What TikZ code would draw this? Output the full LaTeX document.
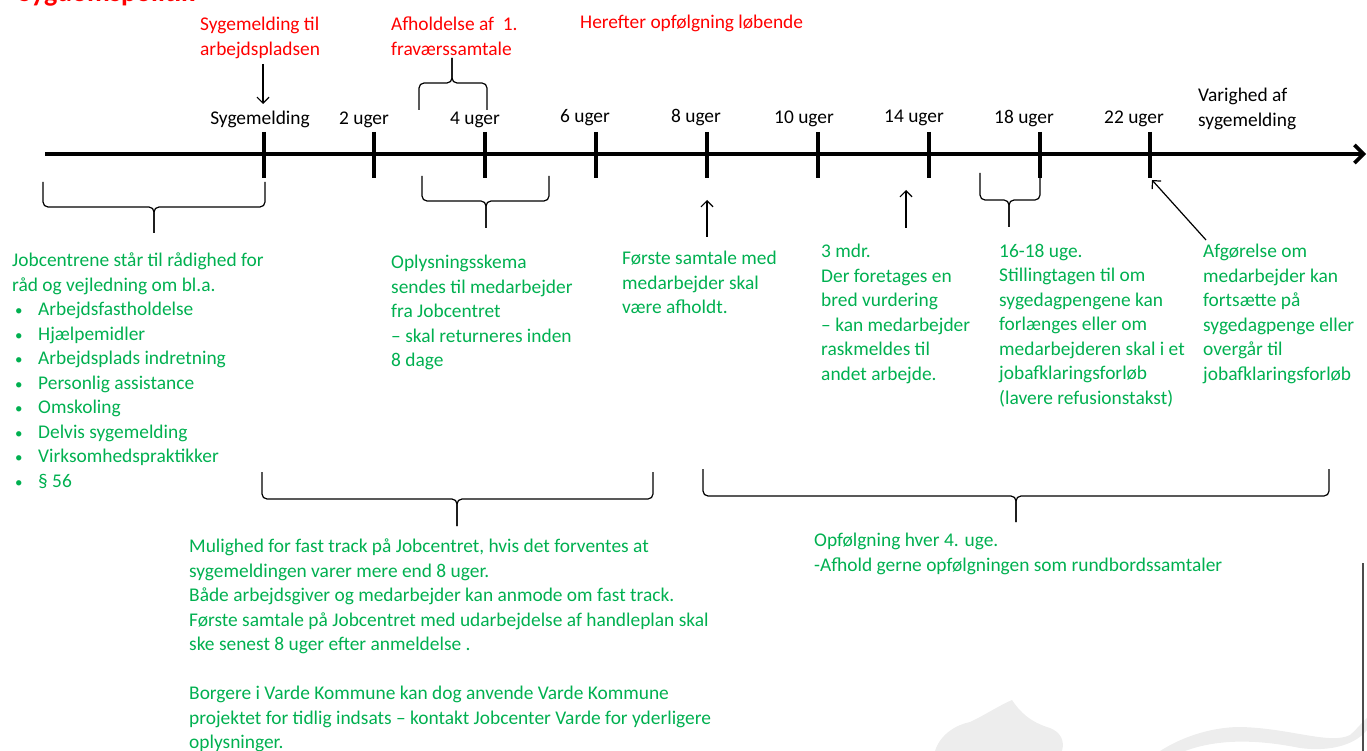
\documentclass[tikz,border=0pt]{standalone}
\usepackage{fontspec}
\setmainfont{Carlito}
\usetikzlibrary{arrows.meta}
\definecolor{grn}{HTML}{00B050}
\definecolor{rd}{HTML}{FF0000}
\definecolor{wm}{HTML}{EDEDED}
\newcommand\tlbrace[6]{% L R armend mid P tip
  \draw[bracestyle] (#1,#3) -- (#1,#4) -- (#5,#4) -- (#5,#6);
  \draw[bracestyle] (#2,#3) -- (#2,#4) -- (#5,#4) -- (#5,#6);}
\newcommand\blt{\hspace*{3pt}\makebox[23pt][l]{\fontsize{15}{15}\selectfont•}}
\begin{document}
\begin{tikzpicture}[x=1pt,y=-1pt,
  txt/.style={font=\fontsize{19.4}{24.5}\selectfont, inner sep=0pt, align=left, anchor=north west, execute at begin node=\strut},
  gtxt/.style={txt, text=grn},
  rtxt/.style={txt, text=rd},
  tlab/.style={font=\fontsize{19.4}{24.5}\selectfont, inner sep=0pt, anchor=base},
  axisline/.style={line width=3.6pt},
  tickline/.style={line width=3.6pt},
  thinline/.style={line width=1.2pt},
  arr/.style={thinline, -{Straight Barb[length=6pt,width=12pt]}},
  bracestyle/.style={thinline, rounded corners=5pt},
]
\useasboundingbox (0,0) rectangle (1367,751);
\clip (0,0) rectangle (1367,751);

% watermark
\fill[wm] (935,751) .. controls (940,735) and (955,725) .. (970,722)
  .. controls (985,715) and (1000,705) .. (1012,700)
  .. controls (1020,712) and (1030,722) .. (1050,728)
  .. controls (1060,732) and (1065,740) .. (1062,751) -- cycle;
\fill[wm] (1160,751) .. controls (1185,735) and (1215,727) .. (1240,727)
  .. controls (1290,728) and (1330,745) .. (1350,735)
  .. controls (1358,728) and (1362,722) .. (1367,718) -- (1367,730)
  .. controls (1355,745) and (1330,752) .. (1300,748)
  .. controls (1260,740) and (1220,738) .. (1185,751) -- cycle;
\draw[black!70, line width=1.3pt] (1363,563) -- (1363,751);

% title (cut off at the top edge, as in the original)
\node[font=\fontsize{28}{28}\selectfont\bfseries, text=rd, anchor=base west, inner sep=0pt] (title) at (18,2) {Sygdomspolitik};

% axis
\coordinate (a0) at (45,154);
\coordinate (aend) at (1366,154);
\draw[axisline, -{Straight Barb[length=9pt,width=18pt]}] (a0) -- (aend);
\foreach \i/\x in {1/264,2/374,3/485,4/596,5/707,6/818,7/929,8/1040,9/1150}{
  \coordinate (t\i) at (\x,132);
  \coordinate (b\i) at (\x,178);
  \draw[tickline] (t\i) -- (b\i);
}

% tick labels
\node[tlab] (l1) at (260,125) {Sygemelding};
\node[tlab] (l2) at (364,125) {2 uger};
\node[tlab] (l3) at (475,125) {4 uger};
\node[tlab] (l4) at (585,123) {6 uger};
\node[tlab] (l5) at (696,123) {8 uger};
\node[tlab] (l6) at (804,124) {10 uger};
\node[tlab] (l7) at (914,123) {14 uger};
\node[tlab] (l8) at (1024,124) {18 uger};
\node[tlab] (l9) at (1134,124) {22 uger};
\node[txt] (varig) at (1198,88) {Varighed af\\sygemelding};

% red texts
\node[rtxt] (redsyg) at (200,17) {Sygemelding til\\arbejdspladsen};
\node[rtxt] (redafh) at (391,17) {Afholdelse af\ \ 1.\\fraværssamtale};
\node[rtxt] (redher) at (580,11) {Herefter opfølgning løbende};

\coordinate (sA) at (263,64);
\coordinate (sB) at (263,104);
\draw[arr] (sA) -- (sB);

% braces
\tlbrace{419}{487}{110}{83}{452}{58}
\tlbrace{43}{265}{182}{207}{154}{233}
\tlbrace{422}{549}{176}{201}{486}{228}
\tlbrace{980}{1040}{173}{200}{1009}{227}
\tlbrace{262}{653}{472}{499}{457}{526}
\tlbrace{703}{1329}{469}{496}{1016}{522}

% arrows
\coordinate (u1a) at (707,237); \coordinate (u1b) at (707,200);
\coordinate (u2a) at (906,228); \coordinate (u2b) at (906,190);
\coordinate (u3a) at (1206,240); \coordinate (u3b) at (1152,180);
\draw[arr] (u1a) -- (u1b);
\draw[arr] (u2a) -- (u2b);
\draw[arr] (u3a) -- (u3b);

% green texts
\node[gtxt] (jobc) at (12,253) {Jobcentrene står til rådighed for\\råd og vejledning om bl.a.\\
\blt Arbejdsfastholdelse\\
\blt Hjælpemidler\\
\blt Arbejdsplads indretning\\
\blt Personlig assistance\\
\blt Omskoling\\
\blt Delvis sygemelding\\
\blt Virksomhedspraktikker\\
\blt § 56};
\node[gtxt] (oplys) at (391,255) {Oplysningsskema\\sendes til medarbejder\\fra Jobcentret\\– skal returneres inden\\8 dage};
\node[gtxt] (forst) at (622,251) {Første samtale med\\medarbejder skal\\være afholdt.};
\node[gtxt] (mdr) at (821,244) {3 mdr.\\Der foretages en\\bred vurdering\\– kan medarbejder\\raskmeldes til\\andet arbejde.};
\node[gtxt] (uge) at (999,244) {16-18 uge.\\Stillingtagen til om\\sygedagpengene kan\\forlænges eller om\\medarbejderen skal i et\\jobafklaringsforløb\\(lavere refusionstakst)};
\node[gtxt] (afg) at (1203,244) {Afgørelse om\\medarbejder kan\\fortsætte på\\sygedagpenge eller\\overgår til\\jobafklaringsforløb};
\node[gtxt] (fast) at (189,539) {Mulighed for fast track på Jobcentret, hvis det forventes at\\sygemeldingen varer mere end 8 uger.\\Både arbejdsgiver og medarbejder kan anmode om fast track.\\Første samtale på Jobcentret med udarbejdelse af handleplan skal\\ske senest 8 uger efter anmeldelse .\\[24.5pt]Borgere i Varde Kommune kan dog anvende Varde Kommune\\projektet for tidlig indsats – kontakt Jobcenter Varde for yderligere\\oplysninger.};
\node[gtxt] (opf) at (814,533) {Opfølgning hver 4. uge.\\-Afhold gerne opfølgningen som rundbordssamtaler};
\end{tikzpicture}
\end{document}
